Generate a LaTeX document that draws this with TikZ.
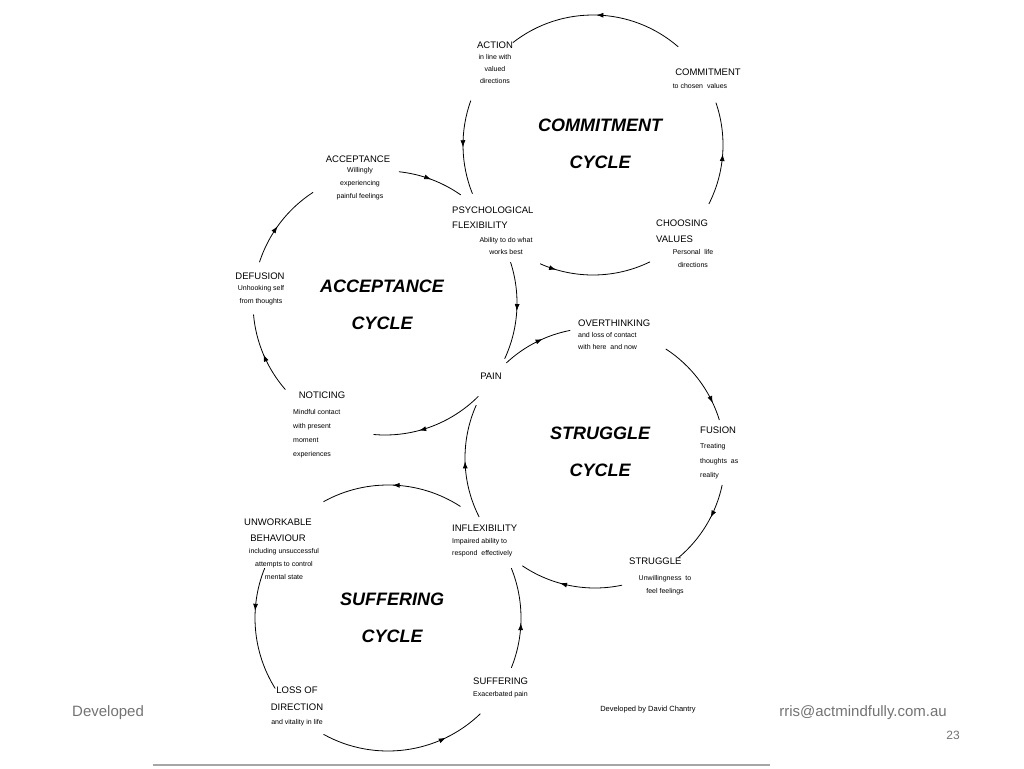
\documentclass[tikz,border=0pt]{standalone}
\usepackage{fontspec}
\setmainfont{Liberation Sans}
\usetikzlibrary{decorations.markings,arrows.meta,calc}
\begin{document}
\begin{tikzpicture}[x=1pt,y=-1pt,
  flow/.style={line width=0.8pt,postaction={decorate},decoration={markings,mark=at position #1 with {\arrow{Latex[length=7pt,width=5pt]}}}},
  flow/.default=0.5,
  head/.style={font=\fontsize{9.5}{10}\selectfont,inner sep=0pt},
  sub/.style={font=\fontsize{7}{12}\selectfont,inner sep=0pt,align=center},
  subl/.style={sub,align=left,anchor=north west},
  big/.style={font=\fontsize{18}{37}\selectfont\bfseries\itshape,align=center,inner sep=0pt},
  foot/.style={font=\fontsize{15}{16}\selectfont,text=black!55,inner sep=0pt}]
\useasboundingbox (0,0) rectangle (1024,768);
\newcommand\cycarc[5][0.5]{\draw[flow=#1] ($(#2)+(#4:#3)$) arc[start angle=#4,end angle=#5,radius=#3];}
% footer
\node[foot,anchor=west] (fdev) at (72,713) {Developed};
\node[foot,anchor=east] (fmail) at (947,713) {rris@actmindfully.com.au};
\node[foot,font=\fontsize{12}{13}\selectfont] (fpage) at (953,735) {23};
\fill[white] (153,20) rectangle (770,700);
\fill[white] (153,700) rectangle (745,762);
\draw[black!35,line width=2pt] (153,765) -- (770,765);
% centres
\coordinate (cC) at (593,145);
\coordinate (cA) at (385,303);
\coordinate (cS) at (595,458);
\coordinate (cU) at (388,618);
% commitment cycle (counterclockwise)
\cycarc{cC}{130}{-49}{-128}
\cycarc{cC}{130}{-160}{-202}
\cycarc[0.15]{cC}{130}{114}{64}
\cycarc{cC}{130}{27}{-19}
% acceptance cycle (clockwise)
\cycarc{cA}{132}{-84}{-55}
\cycarc{cA}{132}{-18}{25}
\cycarc[0.6]{cA}{132}{45}{95}
\cycarc{cA}{132}{139}{175}
\cycarc[0.45]{cA}{132}{198}{237}
% struggle cycle (clockwise)
\cycarc[0.6]{cS}{130}{-133}{-101}
\cycarc[0.8]{cS}{130}{-57}{-17}
\cycarc[0.4]{cS}{130}{12}{50}
\cycarc[0.6]{cS}{130}{78}{124}
\cycarc{cS}{130}{153}{204}
% suffering cycle (counterclockwise)
\cycarc{cU}{133}{-57}{-119}
\cycarc[0.35]{cU}{133}{202}{148}
\cycarc[0.75]{cU}{133}{119}{46}
\cycarc[0.45]{cU}{133}{22}{-22}
% titles
\node[big] (tC) at (600,144) {COMMITMENT\\CYCLE};
\node[big] (tA) at (382,305) {ACCEPTANCE\\CYCLE};
\node[big] (tS) at (600,452) {STRUGGLE\\CYCLE};
\node[big] (tU) at (392,618) {SUFFERING\\CYCLE};
% commitment labels
\node[head] (action) at (495,45) {ACTION};
\node[sub,anchor=north] (actions) at (495,54) {in line with\\valued\\directions};
\node[head] (commit) at (708,72) {COMMITMENT};
\node[sub] (commits) at (700,86) {to chosen\ \ values};
\node[head,anchor=west,align=left,font=\fontsize{9.5}{16}\selectfont] (choose) at (656,231) {CHOOSING\\VALUES};
\node[sub,anchor=north] (chooses) at (693,249) {Personal\ \ life\\[1pt]directions};
\node[head,anchor=west,align=left,font=\fontsize{9.5}{15}\selectfont] (psy) at (452,218) {PSYCHOLOGICAL\\FLEXIBILITY};
\node[sub,anchor=north] (psys) at (506,237) {Ability to do what\\works best};
% acceptance labels
\node[head] (accept) at (358,159) {ACCEPTANCE};
\node[sub,anchor=north] (accepts) at (360,167) {Willingly\\[1pt]experiencing\\[1pt]painful feelings};
\node[head] (defus) at (260,276) {DEFUSION};
\node[sub,anchor=north] (defuss) at (261,285) {Unhooking self\\[1pt]from thoughts};
\node[head] (pain) at (491,376) {PAIN};
\node[head] (notice) at (322,395) {NOTICING};
\node[subl] (notices) at (293,409) {Mindful contact\\[2pt]with present\\[2pt]moment\\[2pt]experiences};
% struggle labels
\node[head,anchor=west] (over) at (578,323) {OVERTHINKING};
\node[sub,anchor=north west,align=left] (overs) at (578,332) {and loss of contact\\with here\ \ and now};
\node[head,anchor=west] (fusion) at (700,430) {FUSION};
\node[subl] (fusions) at (700,443) {Treating\\[3pt]thoughts\ \ as\\[2pt]reality};
\node[head,anchor=west] (strug) at (629,561) {STRUGGLE};
\node[sub,anchor=north] (strugs) at (665,575) {Unwillingness\ \ to\\[1pt]feel feelings};
% suffering labels
\node[head,anchor=west] (inflex) at (452,528) {INFLEXIBILITY};
\node[sub,anchor=north west,align=left] (inflexs) at (452,538) {Impaired ability to\\respond\ \ effectively};
\node[head,align=center,font=\fontsize{9.5}{16}\selectfont] (unwork) at (278,530) {UNWORKABLE\\BEHAVIOUR};
\node[sub,anchor=north] (unworks) at (284,548) {including unsuccessful\\[1pt]attempts to control\\[1pt]mental state};
\node[head,anchor=west] (suff) at (473,681) {SUFFERING};
\node[sub,anchor=west] (suffs) at (473,695) {Exacerbated pain};
\node[head,align=center,font=\fontsize{9.5}{17}\selectfont] (loss) at (297,699) {LOSS OF\\DIRECTION};
\node[sub] (losss) at (297,723) {and vitality in life};
\node[sub,font=\fontsize{7.5}{8}\selectfont] (devby) at (648,710) {Developed by David Chantry};
\end{tikzpicture}
\end{document}
